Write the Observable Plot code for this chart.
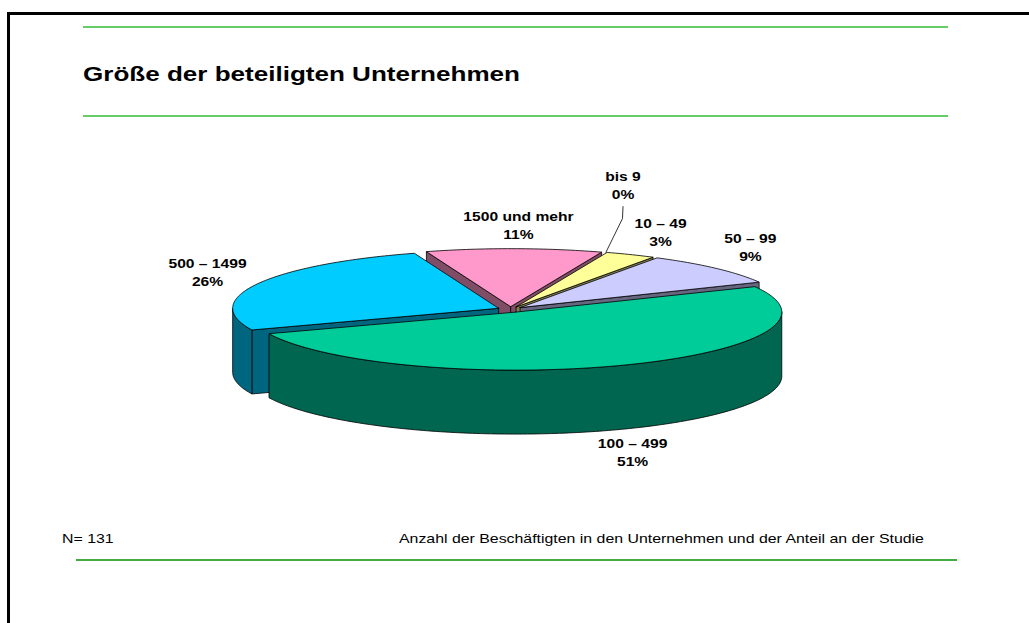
<!DOCTYPE html>
<html>
<head>
<meta charset="utf-8">
<script src="https://cdn.jsdelivr.net/npm/d3@7"></script>
<script src="https://cdn.jsdelivr.net/npm/@observablehq/plot@0.6"></script>
<style>
  html, body { margin: 0; padding: 0; background: #fff; }
  #page { position: relative; width: 1029px; height: 623px; overflow: hidden; font-family: "Liberation Sans", Arial, sans-serif; }
  .rule { position: absolute; }
  .txt { position: absolute; white-space: nowrap; line-height: 1; transform-origin: 0 0; transform: scaleX(1.24); color: #000; }
  #chart { position: absolute; left: 0; top: 0; }
</style>
</head>
<body>
<div id="page">
  <div class="rule" style="left:7px;top:12px;width:1022px;height:3px;background:#000"></div>
  <div class="rule" style="left:7px;top:12px;width:3px;height:611px;background:#000"></div>
  <div class="rule" style="left:83px;top:26px;width:865px;height:1.5px;background:#66cc66"></div>
  <div class="rule" style="left:83px;top:115px;width:865px;height:1.5px;background:#66cc66"></div>
  <div class="rule" style="left:76px;top:559px;width:881px;height:1.5px;background:#44aa44"></div>
  <div class="txt" id="title" style="left:83px;top:63px;font-size:21px;font-weight:bold"></div>
  <div class="txt" id="nlabel" style="left:62px;top:533px;font-size:12.8px"></div>
  <div class="txt" id="caption" style="left:399px;top:533px;font-size:12.8px"></div>
  <div id="chart"></div>
</div>
<script>
// ---- data ----
const categories = ["bis 9", "10 – 49", "50 – 99", "100 – 499", "500 – 1499", "1500 und mehr"];
const counts = [0, 4, 12, 67, 34, 14];
const topColors = ["#999933", "#FFFF99", "#CCCCFF", "#00CC99", "#00CCFF", "#FF99CC"];
const sideColors = ["#4d4d1a", "#808050", "#666680", "#006650", "#006680", "#804d66"];
const titleText = "Größe der beteiligten Unternehmen";
const nText = "N= 131";
const captionText = "Anzahl der Beschäftigten in den Unternehmen und der Anteil an der Studie";

// ---- layout (pie units: 1 = radius) ----
const START = 20;            // angle of first slice, degrees clockwise from 12 o'clock
const TILT = 58 / 266;       // vertical squash of the disc
const DEPTH = 64 / 266;      // thickness of the disc
const EXPLODE = 0.049;       // slice separation
const labelPos = [           // label anchors (pie units)
  [0.423, 0.470], [0.564, 0.295], [0.902, 0.237], [0.459, -0.534], [-1.139, 0.143], [0.030, 0.320]
];
const TEXT_STRETCH = 1.24;

document.getElementById("title").textContent = titleText;
document.getElementById("nlabel").textContent = nText;
document.getElementById("caption").textContent = captionText;

const total = d3.sum(counts);
const deg = Math.PI / 180;
let acc = START;
const slices = counts.map((c, i) => {
  const span = c / total * 360;
  const s = {i, a0: acc, a1: acc + span, mid: acc + span / 2, span};
  acc += span;
  s.off = [EXPLODE * Math.sin(s.mid * deg), EXPLODE * Math.cos(s.mid * deg)];
  return s;
});

function pt(theta, r, z, off) {
  return {x: off[0] + r * Math.sin(theta * deg), y: (off[1] + r * Math.cos(theta * deg)) * TILT - z * DEPTH};
}
function arc(a0, a1, z, off) {
  const n = Math.max(2, Math.ceil(Math.abs(a1 - a0)));
  return d3.range(n + 1).map(k => pt(a0 + (a1 - a0) * k / n, 1, z, off));
}
function radialFace(a, off) {
  const p = [pt(a, 0, 0, off), pt(a, 1, 0, off), pt(a, 1, 1, off), pt(a, 0, 1, off)];
  p.push(p[0]);
  return p;
}

const marks = [];
const faceStyle = {x: "x", y: "y", stroke: "#000", strokeWidth: 0.8, strokeLinejoin: "round"};
const order = slices.filter(s => s.span > 0).sort((a, b) => Math.cos(b.mid * deg) - Math.cos(a.mid * deg));
for (const s of order) {
  const side = sideColors[s.i], top = topColors[s.i];
  if (Math.sin(s.a0 * deg) < 0) marks.push(Plot.line(radialFace(s.a0, s.off), {...faceStyle, fill: side}));
  if (Math.sin(s.a1 * deg) > 0) marks.push(Plot.line(radialFace(s.a1, s.off), {...faceStyle, fill: side}));
  for (const k of [0, 1]) {
    const lo = Math.max(s.a0, 90 + 360 * k), hi = Math.min(s.a1, 270 + 360 * k);
    if (hi > lo) {
      const p = [...arc(lo, hi, 0, s.off), ...arc(hi, lo, 1, s.off)];
      p.push(p[0]);
      marks.push(Plot.line(p, {...faceStyle, fill: side}));
    }
  }
  const t = [pt(s.a0, 0, 0, s.off), ...arc(s.a0, s.a1, 0, s.off)];
  t.push(t[0]);
  marks.push(Plot.line(t, {...faceStyle, fill: top}));
}

// leader line for zero-size slices
slices.filter(s => s.span === 0).forEach(s => {
  const [lx, ly] = labelPos[s.i];
  const rim = pt(s.a0, 1, 0, s.off);
  marks.push(Plot.line([{x: lx, y: ly - 0.083}, {x: lx - 0.002, y: ly - 0.128}, rim], {x: "x", y: "y", stroke: "#000", strokeWidth: 0.8}));
});

const labels = slices.map(s => ({
  x: labelPos[s.i][0], y: labelPos[s.i][1],
  text: categories[s.i] + "\n" + Math.round(counts[s.i] / total * 100) + "%"
}));
marks.push(Plot.text(labels, {x: "x", y: "y", text: "text", fontSize: 12.6, fontWeight: "bold", lineHeight: 1.43, fill: "#000", textAnchor: "middle"}));

const cx = 510, cy = 309, R = 266;
const chart = Plot.plot({
  width: 1029, height: 623, margin: 0,
  x: {domain: [-1, 1], range: [cx - R, cx + R]},
  y: {domain: [-1, 1], range: [cy + R, cy - R]},
  axis: null,
  style: {fontFamily: "'Liberation Sans', Arial, sans-serif", background: "transparent", overflow: "visible"},
  marks
});
chart.querySelectorAll('g[aria-label="text"] text').forEach(t => {
  t.setAttribute("transform", (t.getAttribute("transform") || "") + ` scale(${TEXT_STRETCH},1)`);
});
document.getElementById("chart").appendChild(chart);
</script>
</body>
</html>
